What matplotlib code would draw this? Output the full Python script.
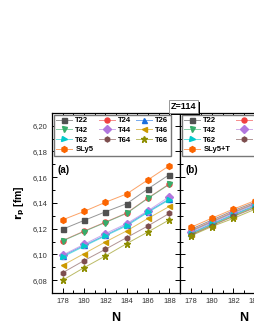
import numpy as np
import matplotlib
matplotlib.use("Agg")
import matplotlib.pyplot as plt
import matplotlib.patheffects as pe
from matplotlib.ticker import MultipleLocator, FuncFormatter
from matplotlib.colors import to_rgba

N = [178, 180, 182, 184, 186, 188]

labels = ['T22', 'T24', 'T26', 'T42', 'T44', 'T46', 'T62', 'T64', 'T66']
warna = ['#515151', '#F14040', '#1A6FDF', '#37AD6B', '#B177DE', '#CC9900',
         '#00CBCC', '#7D4E4E', '#8E8E00']
marker = ['s', 'o', '^', 'v', 'D', '<', '>', 'h', '*']

# panel (a): T-only
a_T22 = [6.1196, 6.1264, 6.1331, 6.1394, 6.1510, 6.1620]
a_T24 = [6.1108, 6.1181, 6.1251, 6.1322, 6.1439, 6.1548]
a_T26 = [6.0988, 6.1070, 6.1150, 6.1230, 6.1333, 6.1432]
a_T42 = [6.1105, 6.1178, 6.1248, 6.1319, 6.1436, 6.1545]
a_T44 = [6.0995, 6.1079, 6.1162, 6.1240, 6.1340, 6.1449]
a_T46 = [6.0915, 6.1006, 6.1097, 6.1183, 6.1280, 6.1373]
a_T62 = [6.0980, 6.1063, 6.1144, 6.1222, 6.1327, 6.1425]
a_T64 = [6.0858, 6.0952, 6.1040, 6.1131, 6.1222, 6.1319]
a_T66 = [6.0800, 6.0897, 6.0988, 6.1084, 6.1175, 6.1269]
a_SLy5 = [6.1269, 6.1334, 6.1405, 6.1470, 6.1580, 6.1690]

# panel (b): SLy5+T
b_T22 = [6.1195, 6.1268, 6.1340, 6.1405, 6.1470, 6.1535]
b_T24 = [6.1185, 6.1258, 6.1330, 6.1396, 6.1461, 6.1526]
b_T26 = [6.1165, 6.1239, 6.1311, 6.1378, 6.1444, 6.1510]
b_T42 = [6.1180, 6.1253, 6.1325, 6.1391, 6.1456, 6.1521]
b_T44 = [6.1175, 6.1248, 6.1320, 6.1386, 6.1452, 6.1517]
b_T46 = [6.1155, 6.1229, 6.1300, 6.1368, 6.1434, 6.1500]
b_T62 = [6.1160, 6.1234, 6.1305, 6.1373, 6.1439, 6.1505]
b_T64 = [6.1150, 6.1224, 6.1295, 6.1362, 6.1428, 6.1494]
b_T66 = [6.1144, 6.1217, 6.1280, 6.1350, 6.1416, 6.1482]
b_SLy5T = [6.1210, 6.1282, 6.1352, 6.1417, 6.1482, 6.1547]

data_a = [a_T22, a_T24, a_T26, a_T42, a_T44, a_T46, a_T62, a_T64, a_T66]
data_b = [b_T22, b_T24, b_T26, b_T42, b_T44, b_T46, b_T62, b_T64, b_T66]

plt.rcParams['font.family'] = ['Liberation Sans', 'DejaVu Sans']

fig = plt.figure(figsize=(2.55, 3.3), dpi=100)
ax1 = fig.add_axes([0.204, 0.112, 0.502, 0.546])
ax2 = fig.add_axes([0.706, 0.112, 0.502, 0.546])

koma = FuncFormatter(lambda v, p: f'{v:.2f}'.replace('.', ','))

# legend diisi per kolom, jadi urutkan supaya tampil per baris
urutan = [0, 3, 6, 9, 1, 4, 7, 2, 5, 8]


def gambar(ax, data, ref, ref_label, huruf):
    for y, lab, c, m in zip(data, labels, warna, marker):
        ms = 5 if m == '*' else 3.6
        ax.plot(N, y, color=to_rgba(c, 0.6), lw=0.7, marker=m, ms=ms,
                mfc=c, mec=c, label=lab, zorder=3)
    ax.plot(N, ref, color=to_rgba('#FB6501', 0.6), lw=0.7, marker='h', ms=4.2,
            mfc='#FB6501', mec='#FB6501', label=ref_label, zorder=4)
    ax.set_xlim(177, 189)
    ax.set_ylim(6.07, 6.21)
    ax.xaxis.set_major_locator(MultipleLocator(2))
    ax.xaxis.set_minor_locator(MultipleLocator(1))
    ax.yaxis.set_major_locator(MultipleLocator(0.02))
    ax.yaxis.set_minor_locator(MultipleLocator(0.01))
    ax.tick_params(which='both', direction='in', top=True, right=True,
                   labelsize=5.5, labelcolor='#333333', width=0.7)
    ax.tick_params(which='major', length=3.5)
    ax.tick_params(which='minor', length=2)
    for s in ax.spines.values():
        s.set_linewidth(0.9)
    ax.set_xlabel('N', fontsize=9, fontweight='bold', labelpad=5)
    ax.text(0.04, 0.665, huruf, transform=ax.transAxes, fontsize=7,
            fontweight='bold')
    h, l = ax.get_legend_handles_labels()
    ax.legend([h[i] for i in urutan], [l[i] for i in urutan],
              loc='upper left', ncol=3, frameon=True,
              fancybox=False, edgecolor='#777777', framealpha=1,
              handlelength=2.1, handletextpad=0.4, columnspacing=0.7,
              labelspacing=0.3, borderpad=0.3, borderaxespad=0.25,
              prop={'size': 5.5, 'weight': 'bold'})


gambar(ax1, data_a, a_SLy5, 'SLy5', '(a)')
gambar(ax2, data_b, b_SLy5T, 'SLy5+T', '(b)')

ax1.yaxis.set_major_formatter(koma)
ax2.tick_params(labelleft=False)
ax1.set_ylabel(r'$\mathbf{r_p}$ [fm]', fontsize=7.5, fontweight='bold', labelpad=4)

t = fig.text(0.718, 0.678, 'Z=114', fontsize=6.5, fontweight='bold',
             ha='center', va='center',
             bbox=dict(boxstyle='square,pad=0.2', fc='white', ec='#888888', lw=0.6))
t.get_bbox_patch().set_path_effects([
    pe.SimplePatchShadow(offset=(1.5, -1.5), shadow_rgbFace='black', alpha=1),
    pe.Normal()])

fig.savefig('out.png', dpi=100)
plt.close()
